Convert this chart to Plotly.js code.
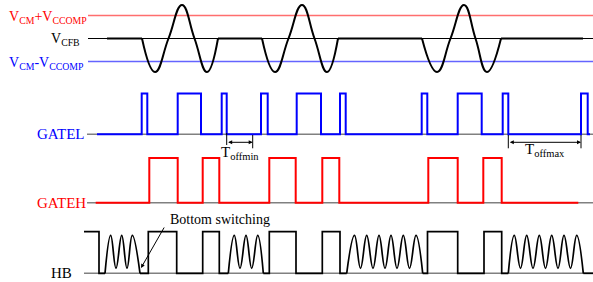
<!DOCTYPE html>
<html><head><meta charset="utf-8">
<script src="https://cdn.plot.ly/plotly-3.0.1.min.js"></script>
<style>html,body{margin:0;padding:0;background:#fff;}#chart{width:593px;height:282px;}</style>
</head><body><div id="chart"></div>
<script>
// ---- data (time units along x, normalized levels) ----
const refLabels = ['V<sub>CM</sub>+V<sub>CCOMP</sub>', 'V<sub>CFB</sub>', 'V<sub>CM</sub>-V<sub>CCOMP</sub>'];
const signalLabels = ['GATEL', 'GATEH', 'HB'];
const noteLabels = ['Bottom switching', 'T<sub>offmin</sub>', 'T<sub>offmax</sub>'];

// V_CFB: flat stretches and 1.5-period bursts
const vcfbFlat = [[107, 142], [218, 262], [338, 422], [501, 583]];
const vcfbBurstT = [
  [142, 155, 168.5, 182, 194.5, 207, 218],
  [262, 275, 288.5, 302, 314.5, 327, 338],
  [422, 437, 450.5, 464, 475.5, 487, 501]
];
const vcfbBurstV = [0, -1, 0, 1, 0, -1, 0];

// GATEL / GATEH switching edges (start low)
const gatelStartEnd = [97, 590];
const gatelEdges = [141.7, 147.3, 177.7, 201, 221.7, 226.7, 261, 267.7, 296.7, 321, 340, 345.7,
                    421.7, 427.3, 457.7, 481.7, 502.7, 508.3, 581, 587.7];
const gatehStartEnd = [95.7, 578.3];
const gatehEdges = [149.3, 177.7, 202.7, 219.3, 269.3, 295.7, 322.3, 339.3, 428.3, 457.7, 483.3, 501.7];

// HB: square edges (starts high) and ringing intervals
const hbStartEnd = [84, 593];
const hbEdges = [99, 148.3, 176.7, 202.7, 219.3, 269.3, 296, 322.3, 340, 427.5, 457.7, 484, 501.7];
const ringStart = [105, 228.3, 346.7, 508.3];
const ringEnd = [140, 263.3, 422.7, 583.3];
const ringPeaks = [[110.7, 121.7, 132.3], [234.3, 246, 257.7],
                   [354.5, 366.7, 379, 391, 403.3, 416], [514.3, 526.7, 539.3, 551.7, 564, 576.7]];
const ringTroughs = [[116, 127], [240, 251.7], [360.5, 373, 385, 397, 409.5],
                     [520.5, 533, 545.5, 558, 570.5]];
const ringPeakLevel = 0.91, ringTroughLevel = 0.12;

// timing markers
const toffminT = [226.7, 252.7];
const toffmaxT = [508.3, 581];
const bottomSwitchPoint = [141, 268];

// ---- layout geometry (screen rows) ----
const refRows = [15.5, 38.5, 61.5];
const vcfbAmp = 33.5;
const rows = {GATEL: [134.3, 93.5], GATEH: [202.7, 158], HB: [273.3, 231.7]};
const serif = 'Liberation Serif, Times New Roman, serif';

const traces = [];
function line(x, y, color, width, shape, smooth) {
  traces.push({x, y, mode: 'lines', type: 'scatter', hoverinfo: 'skip', showlegend: false,
    line: {color, width, shape: shape || 'linear', smoothing: smooth || 1}, connectgaps: false});
}
function lvlY(name, v) { const r = rows[name]; return v === null ? null : r[0] + (r[1] - r[0]) * v; }
function stepPoints(start, end, edges, startHigh) {
  const xs = [start], ys = [startHigh ? 1 : 0]; let lvl = startHigh ? 1 : 0;
  edges.forEach(e => { xs.push(e); ys.push(lvl); lvl = 1 - lvl; xs.push(e); ys.push(lvl); });
  xs.push(end); ys.push(lvl);
  return {xs, ys};
}

// reference horizontal lines
line([88, 593], [refRows[0], refRows[0]], '#ff6e6e', 1.6);
line([88, 593], [refRows[1], refRows[1]], '#000000', 1);
line([88, 593], [refRows[2], refRows[2]], '#6464ff', 1.6);
// VCFB waveform
vcfbFlat.forEach(f => line(f, [refRows[1], refRows[1]], '#000000', 2));
vcfbBurstT.forEach(t => line(t, vcfbBurstV.map(v => refRows[1] - vcfbAmp * v), '#000000', 2, 'spline', 1.3));

// grey baselines
line([87, 593], [rows.GATEL[0], rows.GATEL[0]], '#808080', 1.5);
line([87, 593], [rows.GATEH[0], rows.GATEH[0]], '#808080', 1.5);
line([84, 593], [rows.HB[0], rows.HB[0]], '#808080', 1.5);

// GATEL, GATEH
let s = stepPoints(gatelStartEnd[0], gatelStartEnd[1], gatelEdges, false);
line(s.xs, s.ys.map(v => lvlY('GATEL', v)), '#0000ff', 2);
s = stepPoints(gatehStartEnd[0], gatehStartEnd[1], gatehEdges, false);
line(s.xs, s.ys.map(v => lvlY('GATEH', v)), '#ff0000', 2);

// HB square part with gaps where ringing happens
s = stepPoints(hbStartEnd[0], hbStartEnd[1], hbEdges, true);
ringStart.forEach((rs, k) => {
  const re = ringEnd[k];
  for (let i = 0; i < s.xs.length - 1; i++) {
    if (s.xs[i] <= rs && s.xs[i + 1] >= re && s.ys[i] === 0 && s.ys[i + 1] === 0) {
      s.xs.splice(i + 1, 0, rs, null, re); s.ys.splice(i + 1, 0, 0, null, 0); break;
    }
  }
});
line(s.xs, s.ys.map(v => lvlY('HB', v)), '#000000', 1.7);
// ringing
ringStart.forEach((rs, k) => {
  const xs = [rs], ys = [0];
  ringPeaks[k].forEach((p, j) => {
    xs.push(p); ys.push(ringPeakLevel);
    if (j < ringTroughs[k].length) { xs.push(ringTroughs[k][j]); ys.push(ringTroughLevel); }
  });
  xs.push(ringEnd[k]); ys.push(0);
  line(xs, ys.map(v => lvlY('HB', v)), '#000000', 1.7, 'spline', 1.2);
});

// timing marker verticals
line([toffminT[0], toffminT[0]], [133, 145], '#000000', 1);
line([toffminT[1], toffminT[1]], [135, 148.3], '#000000', 1);
line([toffmaxT[0], toffmaxT[0]], [135, 148.3], '#000000', 1);
line([toffmaxT[1], toffmaxT[1]], [135, 148.3], '#000000', 1);

const ann = [];
function txt(text, x, y, color, size, xanchor) {
  ann.push({text, x, y, xref: 'x', yref: 'y', showarrow: false, xanchor: xanchor || 'center', yanchor: 'middle',
    font: {family: serif, size, color}});
}
txt(refLabels[0], 7, refRows[0] + 1.5, '#ff0000', 14, 'left');
txt(refLabels[1], 82, refRows[1] + 1, '#000000', 14, 'right');
txt(refLabels[2], 7, refRows[2] + 1.5, '#0000ff', 14, 'left');
txt(signalLabels[0], 87, rows.GATEL[0], '#0000ff', 15, 'right');
txt(signalLabels[1], 88, rows.GATEH[0], '#ff0000', 15, 'right');
txt(signalLabels[2], 74, rows.HB[0], '#000000', 15, 'right');
txt(noteLabels[0], 220, 219, '#000000', 14, 'center');
txt(noteLabels[1], (toffminT[0] + toffminT[1]) / 2, 153, '#000000', 15, 'center');
txt(noteLabels[2], (toffmaxT[0] + toffmaxT[1]) / 2, 150, '#000000', 15, 'center');

function dblArrow(t) {
  ann.push({x: t[1], y: 142.3, ax: t[0], ay: 142.3, xref: 'x', yref: 'y', axref: 'x', ayref: 'y',
    text: '', showarrow: true, arrowside: 'end+start', arrowhead: 2, arrowsize: 0.8, arrowwidth: 1,
    arrowcolor: '#000000', standoff: 0, startstandoff: 0});
}
dblArrow(toffminT);
dblArrow(toffmaxT);
ann.push({x: bottomSwitchPoint[0], y: bottomSwitchPoint[1], ax: 165, ay: 226, xref: 'x', yref: 'y',
  axref: 'x', ayref: 'y', text: '', showarrow: true, arrowhead: 2, arrowsize: 0.8, arrowwidth: 1,
  arrowcolor: '#000000', standoff: 0});

const layout = {
  width: 593, height: 282, margin: {l: 0, r: 0, t: 0, b: 0},
  paper_bgcolor: '#ffffff', plot_bgcolor: '#ffffff', showlegend: false,
  xaxis: {range: [0, 593], visible: false, fixedrange: true},
  yaxis: {range: [282, 0], visible: false, fixedrange: true},
  annotations: ann
};
Plotly.newPlot('chart', traces, layout, {displayModeBar: false, staticPlot: true});
</script></body></html>
